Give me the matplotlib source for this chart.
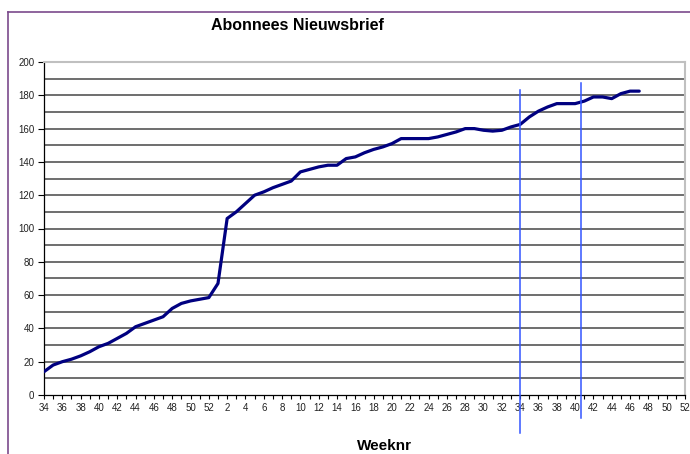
import matplotlib
matplotlib.use("Agg")
import matplotlib.pyplot as plt
from matplotlib.lines import Line2D

# week numbers on the category axis (week 34 of year one up to week 52 of year two)
weeks = list(range(34, 53)) + list(range(1, 53))
# number of subscribers per week (week 34 .. week 47 of year two)
subscribers = [14, 18, 20, 21.5, 23.5, 26, 29, 31, 34, 37,
               41, 43, 45, 47, 52, 55, 56.5, 57.5, 58.5, 67,
               106, 110, 115, 120, 122, 124.5, 126.5, 128.5, 134, 135.5,
               137, 138, 138, 142, 143, 145.5, 147.5, 149, 151, 154,
               154, 154, 154, 155, 156.5, 158, 160, 160, 159, 158.5,
               159, 161, 162.5, 167, 170.5, 173, 175, 175, 175, 176.5,
               179, 179, 178, 181, 182.5, 182.5]
# hand drawn blue marker lines (category position, bottom, top)
marker_pos = [52, 58.6]
marker_bottom = [-23, -14]
marker_top = [183, 187.5]

plt.rcParams['font.family'] = ['Liberation Sans', 'DejaVu Sans']

fig = plt.figure(figsize=(6.9, 4.54), dpi=100)
ax = fig.add_axes([44 / 690, 1 - 395 / 454, 641 / 690, 333 / 454])

# purple chart border (left and top only visible)
fig.add_artist(Line2D([8 / 690, 8 / 690], [0, 1 - 12 / 454], transform=fig.transFigure,
                      color='#7b4a8c', lw=1.2))
fig.add_artist(Line2D([8 / 690, 1], [1 - 12 / 454, 1 - 12 / 454], transform=fig.transFigure,
                      color='#7b4a8c', lw=1.2))

x = list(range(len(subscribers)))
ax.plot(x, subscribers, color='#000080', lw=2.3, solid_capstyle='round',
        solid_joinstyle='round', zorder=3)

for p, b, t in zip(marker_pos, marker_bottom, marker_top):
    ax.plot([p, p], [b, t], color='#3355ff', lw=1.1, clip_on=False, zorder=4)

ax.set_xlim(0, len(weeks) - 1)
ax.set_ylim(0, 200)

ax.set_xticks(range(len(weeks)))
ax.set_xticklabels([str(w) if i % 2 == 0 else '' for i, w in enumerate(weeks)],
                   fontsize=7, color='#222222')
ax.set_yticks(range(0, 201, 20))
ax.set_yticks(range(10, 200, 20), minor=True)
ax.set_yticklabels([str(v) for v in range(0, 201, 20)], fontsize=7, color='#222222')
ax.tick_params(axis='x', length=3, width=0.8, pad=3, direction='out')
ax.tick_params(axis='y', which='major', length=4, width=0.8, pad=3, direction='out')
ax.tick_params(axis='y', which='minor', length=0)

for v in range(10, 200, 10):
    ax.axhline(v, color='#555555', lw=1.2, zorder=1)

ax.spines['top'].set_color('#c0c0c0')
ax.spines['right'].set_color('#c0c0c0')
ax.spines['top'].set_linewidth(1.5)
ax.spines['right'].set_linewidth(1.5)
ax.spines['left'].set_linewidth(0.9)
ax.spines['bottom'].set_linewidth(0.9)

fig.text(297 / 690, 1 - 25 / 454, 'Abonnees Nieuwsbrief', ha='center', va='center',
         fontsize=11.5, fontweight='bold')
fig.text(384 / 690, 1 - 446 / 454, 'Weeknr', ha='center', va='center',
         fontsize=11, fontweight='bold')

fig.savefig('out.png', dpi=100)
